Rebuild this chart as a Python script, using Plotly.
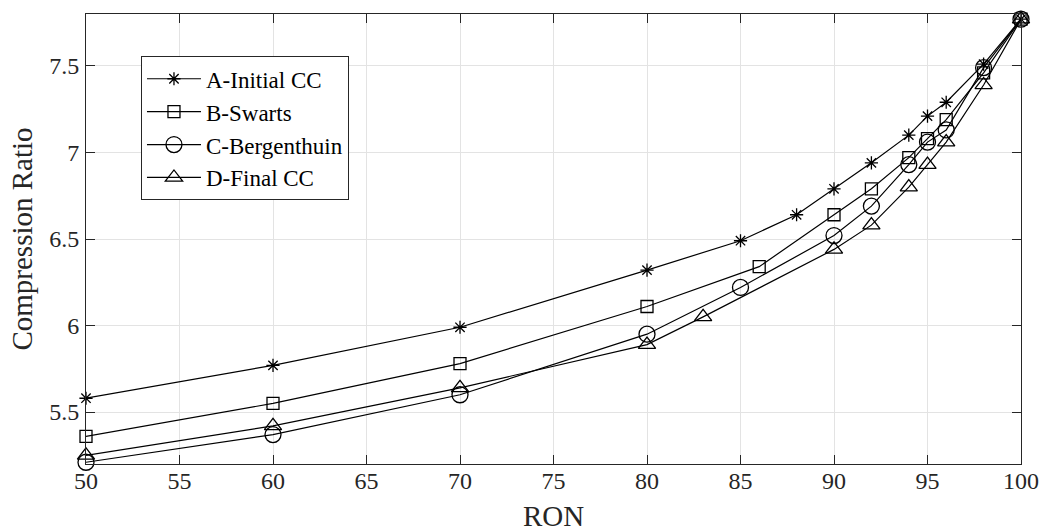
import plotly.graph_objects as go

# RON values at which each compression-ratio curve was evaluated
ron_a = [50, 60, 70, 80, 85, 88, 90, 92, 94, 95, 96, 98, 100]
cr_a = [5.58, 5.77, 5.99, 6.32, 6.49, 6.64, 6.79, 6.94, 7.10, 7.21, 7.29, 7.51, 7.77]

ron_b = [50, 60, 70, 80, 86, 90, 92, 94, 95, 96, 98, 100]
cr_b = [5.36, 5.55, 5.78, 6.11, 6.34, 6.64, 6.79, 6.97, 7.08, 7.19, 7.46, 7.77]

ron_c = [50, 60, 70, 80, 85, 90, 92, 94, 95, 96, 98, 100]
cr_c = [5.21, 5.37, 5.60, 5.95, 6.22, 6.52, 6.69, 6.93, 7.06, 7.13, 7.49, 7.77]

ron_d = [50, 60, 70, 80, 83, 90, 92, 94, 95, 96, 98, 100]
cr_d = [5.25, 5.42, 5.64, 5.89, 6.05, 6.44, 6.58, 6.80, 6.93, 7.06, 7.39, 7.77]

series_names = ["A-Initial CC", "B-Swarts", "C-Bergenthuin", "D-Final CC"]
x_ticks = [50, 55, 60, 65, 70, 75, 80, 85, 90, 95, 100]
y_ticks = [5.5, 6, 6.5, 7, 7.5]

FONT = "Liberation Serif"
INK = "#000000"
AXIS = "#262626"
GRID = "#e3e3e3"

fig = go.Figure()

styles = [
    (ron_a, cr_a, "asterisk-open", 11),
    (ron_b, cr_b, "square-open", 12),
    (ron_c, cr_c, "circle-open", 16),
    (ron_d, cr_d, "triangle-up-open", 15),
]
for (xs, ys, sym, size), name in zip(styles, series_names):
    fig.add_trace(go.Scatter(
        x=xs, y=ys, name=name, mode="lines+markers",
        line=dict(color=INK, width=1.2),
        marker=dict(symbol=sym, size=size, color=INK,
                    line=dict(color=INK, width=1.3)),
        cliponaxis=False,
    ))

axis_common = dict(
    showgrid=True, gridcolor=GRID, gridwidth=1,
    showline=True, linecolor=AXIS, linewidth=1, mirror="ticks",
    ticks="inside", ticklen=9, tickcolor=AXIS, tickwidth=1,
    tickfont=dict(family=FONT, size=24, color="#262626"),
    zeroline=False,
)

fig.update_xaxes(
    range=[50, 100], tickvals=x_ticks,
    ticktext=[str(v) for v in x_ticks],
    title=dict(text="RON", font=dict(family=FONT, size=29, color="#262626"),
               standoff=15),
    ticklabelstandoff=-5,
    **axis_common,
)
fig.update_yaxes(
    range=[5.2, 7.8], tickvals=y_ticks,
    ticktext=[("%g" % v) for v in y_ticks],
    title=dict(text="Compression Ratio",
               font=dict(family=FONT, size=29, color="#262626"), standoff=8),
    ticklabelstandoff=1,
    **axis_common,
)

fig.update_layout(
    width=1042, height=532,
    margin=dict(l=86, r=21, t=14, b=68, autoexpand=False),
    paper_bgcolor="white", plot_bgcolor="white",
    font=dict(family=FONT, color=INK),
    showlegend=True,
    legend=dict(
        x=0.0588, y=0.906, xanchor="left", yanchor="top",
        bgcolor="white", bordercolor=AXIS, borderwidth=1,
        font=dict(family=FONT, size=23, color=INK),
        itemwidth=54, tracegroupgap=0,
    ),
)

fig.write_html("out.html")
